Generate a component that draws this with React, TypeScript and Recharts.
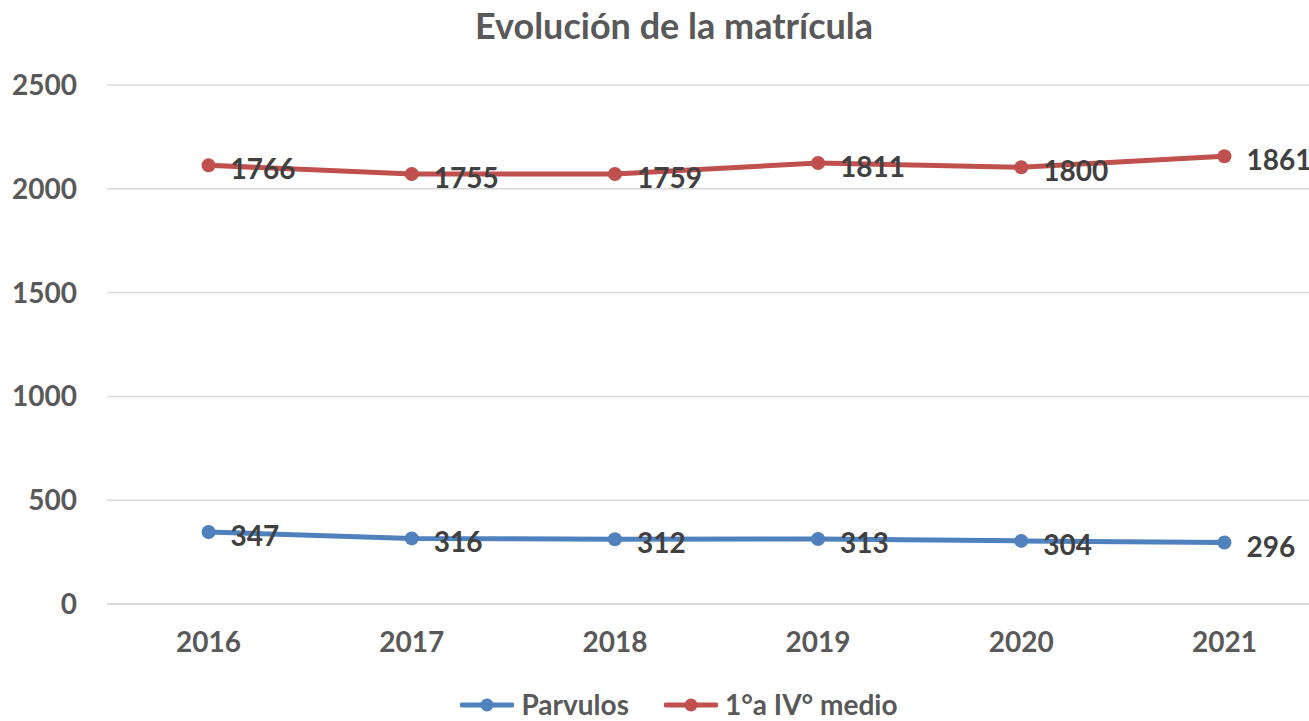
import React from "react";
import {
  ComposedChart,
  Area,
  XAxis,
  YAxis,
  CartesianGrid,
  LabelList,
} from "recharts";

const years = ["2016", "2017", "2018", "2019", "2020", "2021"];
const parvulos = [347, 316, 312, 313, 304, 296];
const medio = [1766, 1755, 1759, 1811, 1800, 1861];
const yTicks = [0, 500, 1000, 1500, 2000, 2500];

const BLUE = "#4F81BD";
const RED = "#C0504D";
const FONT = "Lato, 'Open Sans', sans-serif";

const data = years.map((year, i) => ({
  year,
  parvulos: parvulos[i],
  medio: medio[i],
}));

const renderValue = (props: any) => {
  const { x, y, value } = props;
  return (
    <text
      x={x + 22}
      y={y + 3}
      dominantBaseline="central"
      fill="#404040"
      fontSize={28}
      fontWeight={700}
      fontFamily={FONT}
    >
      {value}
    </text>
  );
};

const makeDot = (color: string) => (props: any) => {
  const { cx, cy, index } = props;
  if (cx == null || cy == null) return <g key={index} />;
  return <circle key={index} cx={cx} cy={cy} r={7} fill={color} />;
};

function LegendItem({ color, label }: { color: string; label: string }) {
  return (
    <div style={{ display: "flex", alignItems: "center" }}>
      <svg width={54} height={16} style={{ marginRight: 7 }}>
        <line x1={2} y1={8} x2={52} y2={8} stroke={color} strokeWidth={5} strokeLinecap="round" />
        <circle cx={27} cy={8} r={6.5} fill={color} />
      </svg>
      <span>{label}</span>
    </div>
  );
}

export default function App() {
  return (
    <div
      style={{
        position: "absolute",
        left: 0,
        top: 0,
        width: 1309,
        height: 721,
        overflow: "hidden",
        background: "#fff",
        fontFamily: FONT,
      }}
    >
      <div
        style={{
          position: "absolute",
          left: 0,
          top: 5,
          width: 1348,
          textAlign: "center",
          fontSize: 36,
          lineHeight: "40px",
          fontWeight: 700,
          color: "#595959",
        }}
      >
        Evolución de la matrícula
      </div>

      <ComposedChart
        width={1340}
        height={721}
        data={data}
        margin={{ top: 85, right: 14, left: 37, bottom: 57 }}
      >
        <CartesianGrid vertical={false} stroke="#D9D9D9" strokeWidth={1.5} />
        <XAxis
          dataKey="year"
          scale="band"
          height={60}
          axisLine={{ stroke: "#D9D9D9", strokeWidth: 1.5 }}
          tickLine={false}
          tickMargin={22}
          tick={{ fill: "#595959", fontSize: 28, fontWeight: 700, fontFamily: FONT }}
        />
        <YAxis
          width={70}
          domain={[0, 2500]}
          ticks={yTicks}
          axisLine={false}
          tickLine={false}
          tickMargin={24}
          tick={{ fill: "#595959", fontSize: 28, fontWeight: 700, fontFamily: FONT }}
        />
        <Area
          type="linear"
          dataKey="parvulos"
          stackId="a"
          stroke={BLUE}
          strokeWidth={5}
          fill="none"
          fillOpacity={0}
          dot={makeDot(BLUE)}
          activeDot={false}
          isAnimationActive={false}
        >
          <LabelList dataKey="parvulos" content={renderValue} />
        </Area>
        <Area
          type="linear"
          dataKey="medio"
          stackId="a"
          stroke={RED}
          strokeWidth={5}
          fill="none"
          fillOpacity={0}
          dot={makeDot(RED)}
          activeDot={false}
          isAnimationActive={false}
        >
          <LabelList dataKey="medio" content={renderValue} />
        </Area>
      </ComposedChart>

      <div
        style={{
          position: "absolute",
          left: 0,
          top: 690,
          width: 1358,
          display: "flex",
          justifyContent: "center",
          gap: 35,
          fontSize: 28,
          lineHeight: "29px",
          fontWeight: 700,
          color: "#595959",
        }}
      >
        <LegendItem color={BLUE} label="Parvulos" />
        <LegendItem color={RED} label="1°a IV° medio" />
      </div>
    </div>
  );
}
